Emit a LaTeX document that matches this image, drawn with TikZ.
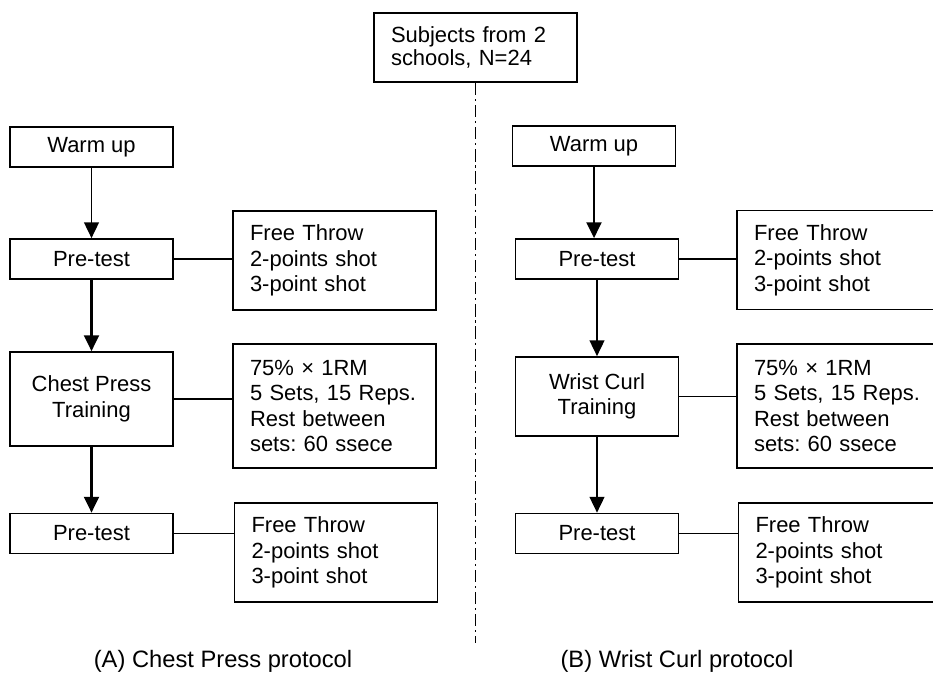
\documentclass[tikz,border=0pt]{standalone}
\usepackage{fontspec}
\setmainfont{Liberation Sans}
\usetikzlibrary{arrows.meta, positioning, calc}

\begin{document}
\frenchspacing
\begin{tikzpicture}[
        x=0.02cm, y=-0.02cm,
        stage/.style={draw, line width=1pt, minimum width=3.26cm, minimum height=0.8cm, align=center,
            font=\fontsize{12.5}{14.5}\selectfont},
        info/.style={draw, line width=1pt, text width=3.38cm, inner xsep=0.34cm, minimum height=1.98cm,
            align=left, font=\fontsize{12.5}{14.5}\selectfont},
        flow/.style={-{Triangle[width=8.5pt, length=9pt]}, line width=1.4pt},
        thinflow/.style={-{Triangle[width=8.5pt, length=9pt]}, line width=0.8pt},
        link/.style={line width=0.7pt},
        caption/.style={anchor=base, font=\fontsize{13.5}{16}\selectfont}
    ]
        \useasboundingbox (0,0) rectangle (933,673);
        \clip (0,0) rectangle (933,673);

        % Subjects and the split between both groups
        \node[info, minimum height=1.38cm, font=\fontsize{12.5}{13.5}\selectfont] (subj) at (475.5, 47.5) {Subjects from 2\\schools, N=24};
        \coordinate (split) at (475.5, 643);
        \draw[line width=0.9pt, dash pattern=on 7pt off 2.2pt on 1.2pt off 2.2pt] (subj) -- (split);

        % (A) Chest press group
        \node[stage] (warmA) at (91.5, 147) {Warm up};
        \node[stage] (preA) at (91.5, 259) {Pre-test};
        \node[stage, minimum height=1.88cm] (trainA) at (91.5, 399) {Chest Press\\Training};
        \node[stage] (postA) at (91.5, 533.5) {Pre-test};

        \node[info] (testA1) at (334.5, 260.5) {Free Throw\\2-points shot\\3-point shot};
        \node[info, minimum height=2.48cm] (loadA) at (334.5, 406) {75\% × 1RM\\5 Sets, 15 Reps.\\Rest between\\sets: 60 ssece};
        \node[info] (testA2) at (336, 552.5) {Free Throw\\2-points shot\\3-point shot};

        \draw[thinflow] (warmA) -- (preA);
        \draw[flow] (preA) -- (trainA);
        \draw[flow] (trainA) -- (postA);
        \draw[link] (preA.east) -- (preA.east -| testA1.west);
        \draw[link] (trainA.east) -- (trainA.east -| loadA.west);
        \draw[link] (postA.east) -- (postA.east -| testA2.west);

        % (B) Wrist curl group
        \node[stage] (warmB) at (594, 146) {Warm up};
        \node[stage] (preB) at (597, 259) {Pre-test};
        \node[stage, minimum height=1.58cm] (trainB) at (597, 396.5) {Wrist Curl\\Training};
        \node[stage] (postB) at (597, 533.5) {Pre-test};

        \node[info] (testB1) at (838.5, 260) {Free Throw\\2-points shot\\3-point shot};
        \node[info, minimum height=2.48cm] (loadB) at (838.5, 406) {75\% × 1RM\\5 Sets, 15 Reps.\\Rest between\\sets: 60 ssece};
        \node[info] (testB2) at (840, 552.5) {Free Throw\\2-points shot\\3-point shot};

        \draw[flow] (warmB) -- (warmB |- preB.north);
        \draw[thinflow] (preB) -- (trainB);
        \draw[thinflow] (trainB) -- (postB);
        \draw[link] (preB.east) -- (preB.east -| testB1.west);
        \draw[link] (trainB.east) -- (trainB.east -| loadB.west);
        \draw[link] (postB.east) -- (postB.east -| testB2.west);

        % Captions
        \node[caption] (capA) at (223, 667) {(A) Chest Press protocol};
        \node[caption] (capB) at (677, 667) {(B) Wrist Curl protocol};
    \end{tikzpicture}
\end{document}
